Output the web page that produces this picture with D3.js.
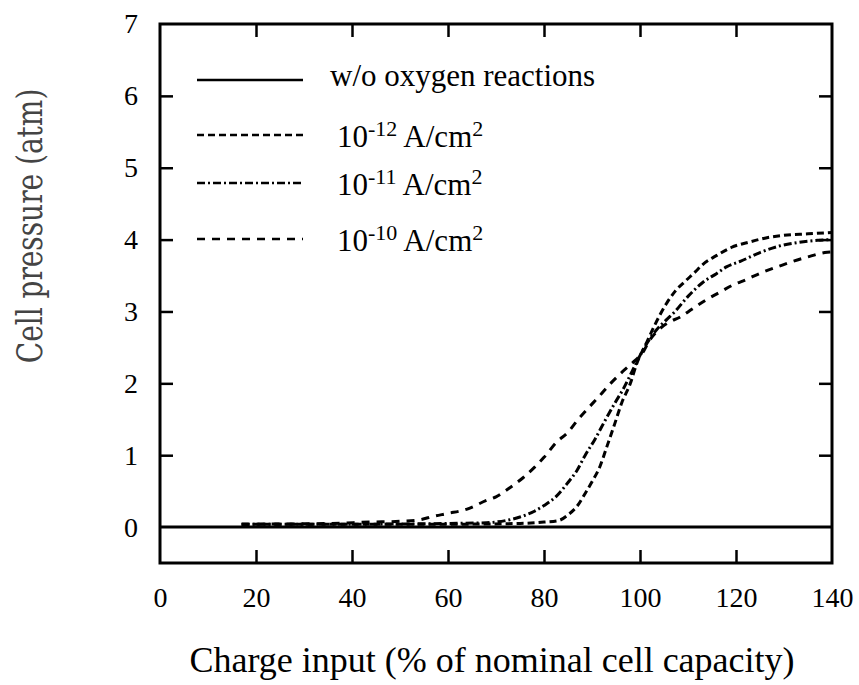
<!DOCTYPE html>
<html>
<head>
<meta charset="utf-8">
<script src="https://cdn.jsdelivr.net/npm/d3@7"></script>
<style>
  body { margin: 0; background: #fff; }
  svg text { font-family: "Liberation Serif", "Times New Roman", serif; }
</style>
</head>
<body>
<svg id="chart" width="859" height="685"></svg>
<script>
// axis ticks
const xTicks = [0, 20, 40, 60, 80, 100, 120, 140];
const yTicks = [0, 1, 2, 3, 4, 5, 6, 7];

// w/o oxygen reactions
const xNone = [0, 140];
const yNone = [0, 0];

// 10^-12 A/cm2
const x12 = [17, 40, 60, 75, 80, 83, 85, 87, 88.5, 90, 91.7, 93, 94.8, 96.2, 98, 99.3, 101.4, 103, 105.6, 107.3, 109.4, 111.5, 113, 116, 119, 123, 126, 130, 135, 140];
const y12 = [0.04, 0.04, 0.04, 0.05, 0.07, 0.09, 0.17, 0.3, 0.46, 0.63, 0.85, 1.1, 1.45, 1.73, 2.0, 2.27, 2.57, 2.8, 3.12, 3.28, 3.42, 3.55, 3.65, 3.78, 3.89, 3.97, 4.02, 4.06, 4.08, 4.1];

// 10^-11 A/cm2
const x11 = [17, 40, 60, 68, 72, 75, 78, 80, 82.6, 85, 86.8, 88.5, 90.6, 92.7, 94.8, 96.5, 98.6, 100.5, 103.5, 105.6, 107.3, 110, 113, 116, 118, 121, 125, 129, 133, 137, 140];
const y11 = [0.04, 0.04, 0.05, 0.06, 0.09, 0.14, 0.22, 0.30, 0.43, 0.62, 0.78, 0.99, 1.22, 1.48, 1.73, 1.92, 2.2, 2.45, 2.75, 2.89, 3.0, 3.21, 3.4, 3.53, 3.62, 3.70, 3.82, 3.91, 3.96, 3.99, 4.0];

// 10^-10 A/cm2
const x10 = [17, 35, 44, 50, 54, 57, 60, 64, 68, 70, 72.5, 75.7, 78, 80, 82.6, 85, 87, 89, 91.5, 93.75, 96, 99, 100.6, 102, 103.5, 106, 108.3, 110.8, 113.5, 116.7, 119.4, 122, 125.7, 129, 132, 135, 138.5, 140];
const y10 = [0.04, 0.05, 0.07, 0.08, 0.1, 0.15, 0.19, 0.25, 0.37, 0.42, 0.53, 0.69, 0.83, 0.97, 1.18, 1.32, 1.49, 1.64, 1.82, 1.99, 2.14, 2.32, 2.43, 2.6, 2.72, 2.85, 2.92, 3.03, 3.15, 3.27, 3.37, 3.44, 3.55, 3.63, 3.70, 3.76, 3.82, 3.83];

const legendBase = ['w/o oxygen reactions', '10', '10', '10'];
const legendExp = [null, '-12', '-11', '-10'];

const margin = { top: 24, right: 27, bottom: 122, left: 160 };
const W = 859, H = 685;
const w = W - margin.left - margin.right;
const h = H - margin.top - margin.bottom;

const svg = d3.select('#chart');
const g = svg.append('g').attr('transform', `translate(${margin.left},${margin.top})`);

const x = d3.scaleLinear().domain([0, 140]).range([0, w]);
const y = d3.scaleLinear().domain([-0.5, 7]).range([h, 0]);

const series = [
  { xs: xNone, ys: yNone, dash: null },
  { xs: x12, ys: y12, dash: '7,4' },
  { xs: x11, ys: y11, dash: '8,3,2,3' },
  { xs: x10, ys: y10, dash: '8,7' },
];

// ticks (inward, mirrored)
const tickLen = 13;
const inner = (v, arr) => arr.filter((d) => d !== v[0] && d !== v[1]);

const xb = g.append('g')
  .attr('transform', `translate(0,${h})`)
  .call(d3.axisBottom(x).tickValues(xTicks).tickSizeInner(-tickLen).tickSizeOuter(0).tickPadding(24));
const xt = g.append('g')
  .call(d3.axisTop(x).tickValues(inner([0, 140], xTicks)).tickSizeInner(-tickLen).tickSizeOuter(0).tickFormat(''));
const yl = g.append('g')
  .call(d3.axisLeft(y).tickValues(yTicks).tickSizeInner(-tickLen).tickSizeOuter(0).tickPadding(22));
const yr = g.append('g')
  .attr('transform', `translate(${w},0)`)
  .call(d3.axisRight(y).tickValues(inner([0, 7], yTicks)).tickSizeInner(-tickLen).tickSizeOuter(0).tickFormat(''));

[xb, xt, yl, yr].forEach((a) => {
  a.select('.domain').remove();
  a.selectAll('line').attr('stroke', '#000').attr('stroke-width', 2.5);
  a.selectAll('text')
    .attr('fill', '#000')
    .style('font-family', '"Liberation Serif", serif')
    .style('font-size', '28px');
});
// no tick marks at the frame corners
xb.selectAll('.tick').filter((d) => d === 0 || d === 140).select('line').remove();
yl.selectAll('.tick').filter((d) => d === 0 || d === 7).select('line').remove();

// curves
const line = d3.line()
  .x((d) => x(d[0]))
  .y((d) => y(d[1]))
  .curve(d3.curveMonotoneX);

series.forEach((s) => {
  g.append('path')
    .datum(s.xs.map((v, i) => [v, s.ys[i]]))
    .attr('fill', 'none')
    .attr('stroke', '#000')
    .attr('stroke-width', 3)
    .attr('stroke-dasharray', s.dash)
    .attr('d', line);
});

// frame
g.append('rect')
  .attr('width', w)
  .attr('height', h)
  .attr('fill', 'none')
  .attr('stroke', '#000')
  .attr('stroke-width', 3);

// legend
const legY = [56, 111, 159, 215];
const legend = g.append('g');
series.forEach((s, i) => {
  legend.append('line')
    .attr('x1', 37).attr('x2', 143)
    .attr('y1', legY[i]).attr('y2', legY[i])
    .attr('stroke', '#000')
    .attr('stroke-width', 2.5)
    .attr('stroke-dasharray', s.dash);

  const t = legend.append('text')
    .attr('x', i === 0 ? 170 : 177)
    .attr('y', legY[i] + (i === 0 ? 6 : 12))
    .style('font-size', '31px');
  t.append('tspan').text(legendBase[i]);
  if (legendExp[i]) {
    t.append('tspan').attr('dy', -11).style('font-size', '22px').text(legendExp[i]);
    t.append('tspan').attr('dy', 11).text(' A/cm');
    t.append('tspan').attr('dy', -11).style('font-size', '22px').text('2');
  }
});

// axis titles
svg.append('text')
  .attr('x', 492)
  .attr('y', 672)
  .attr('text-anchor', 'middle')
  .style('font-size', '36px')
  .text('Charge input (% of nominal cell capacity)');

svg.append('text')
  .attr('transform', 'translate(42,226) rotate(-90) scale(0.8,1)')
  .attr('text-anchor', 'middle')
  .attr('fill', '#444')
  .style('font-family', '"DejaVu Serif", "Liberation Serif", serif')
  .style('font-size', '35px')
  .text('Cell pressure (atm)');
</script>
</body>
</html>
